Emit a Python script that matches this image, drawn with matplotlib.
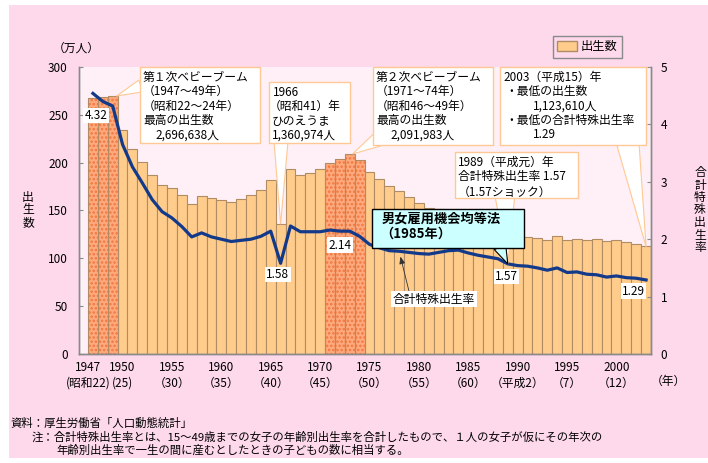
import numpy as np
import matplotlib.pyplot as plt
from matplotlib.patches import Rectangle, Patch
import matplotlib.transforms as mtransforms

plt.rcParams['font.family'] = ['Noto Sans CJK JP', 'DejaVu Sans']
plt.rcParams['hatch.linewidth'] = 1.2

W, H = 708, 463

# births (10,000 persons) and total fertility rate, 1947-2003
years = np.arange(1947, 2004)
births = [267.9, 268.2, 269.7, 233.8, 213.8, 200.5, 186.8, 177.0, 173.1, 166.5,
          156.7, 165.3, 162.6, 160.6, 158.9, 161.9, 166.0, 171.7, 182.4, 136.1,
          193.6, 187.2, 188.9, 193.4, 200.1, 203.9, 209.2, 203.0, 190.1, 183.3,
          175.5, 170.9, 164.3, 157.7, 152.9, 151.5, 150.9, 149.0, 143.2, 138.3,
          134.7, 131.4, 124.7, 122.2, 122.3, 120.9, 118.8, 123.8, 118.7, 120.7,
          119.2, 120.3, 117.8, 119.1, 117.1, 115.4, 112.4]
tfr = [4.54, 4.40, 4.32, 3.65, 3.26, 2.98, 2.69, 2.48, 2.37, 2.22,
       2.04, 2.11, 2.04, 2.00, 1.96, 1.98, 2.00, 2.05, 2.14, 1.58,
       2.23, 2.13, 2.13, 2.13, 2.16, 2.14, 2.14, 2.05, 1.91, 1.85,
       1.80, 1.79, 1.77, 1.75, 1.74, 1.77, 1.80, 1.81, 1.76, 1.72,
       1.69, 1.66, 1.57, 1.54, 1.53, 1.50, 1.46, 1.50, 1.42, 1.43,
       1.39, 1.38, 1.34, 1.36, 1.33, 1.32, 1.29]
boom_years = [1947, 1948, 1949, 1971, 1972, 1973, 1974]

tick_years = [1947, 1950, 1955, 1960, 1965, 1970, 1975, 1980, 1985, 1990, 1995, 2000]
tick_labels = ['1947\n(昭和22)', '1950\n(25)', '1955\n（30）', '1960\n（35）',
               '1965\n（40）', '1970\n（45）', '1975\n（50）', '1980\n（55）',
               '1985\n（60）', '1990\n（平成2）', '1995\n（7）', '2000\n（12）']

labeled_tfr = [(1949, -12, -7), (1966, -2, -8), (1972, 0, -10), (1989, -1, -9), (2003, -9, -8)]

PINK = '#FDD9EB'
INNER = '#FEF0F6'
BAR = '#FFCC8C'
BAR_EDGE = '#B08C64'
BOOM = '#FFA97C'
BOOM_DOT = '#F2773F'
NAVY = '#133A8A'
BOX_EDGE = '#FFC894'
GRAY = '#8A8A8A'


def fp(x, y):
    # pixel position (from top-left) -> figure fraction
    return (x / W, 1 - y / H)


fig = plt.figure(figsize=(7.08, 4.63), dpi=100)
fig.patches.append(Rectangle(fp(9, 458), 699 / W, 453 / H, transform=fig.transFigure,
                             facecolor=PINK, edgecolor='none', zorder=-10))

ax = fig.add_axes([79 / W, 1 - 354 / H, 572 / W, 287 / H])
ax.set_facecolor(INNER)
ax2 = ax.twinx()

births_arr = np.array(births)
is_boom = np.isin(years, boom_years)

ax.bar(years[~is_boom], births_arr[~is_boom], width=1.0, facecolor=BAR,
       edgecolor=BAR_EDGE, linewidth=0.8)
ax.bar(years[is_boom], births_arr[is_boom], width=1.0, facecolor=BOOM,
       edgecolor=BOOM_DOT, hatch='....', linewidth=0)
ax.bar(years[is_boom], births_arr[is_boom], width=1.0, fill=False,
       edgecolor=BAR_EDGE, linewidth=0.8)

ax2.plot(years, tfr, color=NAVY, linewidth=2.3, solid_joinstyle='round', zorder=3)

ax.set_xlim(1945.59, 2003.5)
ax.set_ylim(0, 300)
ax2.set_ylim(0, 5)
ax.set_yticks(range(0, 301, 50))
ax2.set_yticks(range(0, 6))
ax.set_xticks(tick_years)
ax.set_xticklabels(tick_labels, linespacing=1.25)

for a in (ax, ax2):
    a.spines['top'].set_visible(False)
    for s in ('left', 'right', 'bottom'):
        a.spines[s].set_color(GRAY)
        a.spines[s].set_linewidth(1.0)
ax.tick_params(axis='y', direction='in', length=3, color=GRAY, labelsize=8.5, pad=8)
ax2.tick_params(axis='y', direction='in', length=3, color=GRAY, labelsize=8.5, pad=7)
ax.tick_params(axis='x', length=0, labelsize=8.5, pad=5)

# first tick label sits a little to the left
off = mtransforms.ScaledTranslation(-5 / 100, 0, fig.dpi_scale_trans)
first = ax.get_xticklabels()[0]
first.set_transform(first.get_transform() + off)

fig.text(*fp(668, 381), '（年）', ha='center', va='center', fontsize=8.5)
fig.text(*fp(76, 48), '（万人）', ha='center', va='center', fontsize=8.5)
fig.text(*fp(28, 210), '出\n生\n数', ha='center', va='center', fontsize=8.5, linespacing=0.95)
fig.text(*fp(700, 210), '合\n計\n特\n殊\n出\n生\n率', ha='center', va='center',
         fontsize=8.5, linespacing=0.95)

# tfr value labels
for yr, dx, dy in labeled_tfr:
    v = tfr[yr - 1947]
    ax2.annotate(f'{v:.2f}', xy=(yr, v), xytext=(dx, dy), textcoords='offset points',
                 ha='center', va='center', fontsize=8.5, zorder=4,
                 bbox=dict(boxstyle='square,pad=0.1', facecolor='white', edgecolor='none'))


def callout(box, lines, tip, base, tipcoords, face='white', edge=BOX_EDGE,
            weight='normal', size=8.5, pitch=14.5, width=1.1):
    x, y, w, h = box
    ax2.annotate('', xy=tip, xycoords=tipcoords, xytext=fp(*base),
                 textcoords='figure fraction', annotation_clip=False,
                 arrowprops=dict(arrowstyle=f'wedge,tail_width={width},shrink_factor=0.5',
                                 facecolor=face, edgecolor=edge, linewidth=0.8,
                                 shrinkA=0, shrinkB=0, mutation_scale=10))
    fig.patches.append(Rectangle(fp(x, y + h), w / W, h / H, transform=fig.transFigure,
                                 facecolor=face, edgecolor=edge, linewidth=1.0, zorder=5))
    for i, (lx, txt) in enumerate(lines):
        fig.text(*fp(x + lx, y + 10 + i * pitch), txt, ha='left', va='center',
                 fontsize=size, fontweight=weight, zorder=6)


b49 = births[1949 - 1947]
callout((140, 67, 120, 76),
        [(3, '第１次ベビーブーム'), (3, '（1947〜49年）'), (3, '（昭和22〜24年）'),
         (3, '最高の出生数'), (15, '2,696,638人')],
        (1949.4, b49), (141, 86), ax.transData, width=0.9)
callout((269, 82, 81, 61),
        [(4, '1966'), (0, '（昭和41）年'), (3, 'ひのえうま'), (3, '1,360,974人')],
        (1966, births[1966 - 1947]), (281, 142), ax.transData, width=1.0)
callout((373, 67, 120, 78),
        [(3, '第２次ベビーブーム'), (3, '（1971〜74年）'), (3, '（昭和46〜49年）'),
         (3, '最高の出生数'), (17, '2,091,983人')],
        (1973.3, births[1973 - 1947]), (377, 140), ax.transData, width=1.0)
callout((500, 67, 146, 78),
        [(3, '2003（平成15）年'), (5, '・最低の出生数'), (33, '1,123,610人'),
         (5, '・最低の合計特殊出生率'), (33, f'{tfr[-1]:.2f}')],
        (2003, births[-1]), (628, 144), ax.transData, width=1.6)
t89 = tfr[1989 - 1947]
callout((455, 152, 123, 46),
        [(3, '1989（平成元）年'), (3, f'合計特殊出生率 {t89:.2f}'), (3, '（1.57ショック）')],
        (1989, t89), (505, 197), ax2.transData, pitch=15, width=1.4)
callout((372, 209, 152, 39),
        [(10, '男女雇用機会均等法'), (8, '（1985年）')],
        (1989, t89), (500, 247), ax2.transData, face='#CCFFFF', edge='black',
        weight='bold', size=9.5, pitch=15, width=0.9)

# line label with arrow
ax2.annotate('合計特殊出生率', xy=(1978, tfr[1978 - 1947]), xycoords='data',
             xytext=fp(434, 299), textcoords='figure fraction', ha='center', va='center',
             fontsize=8.5, zorder=4, annotation_clip=False,
             bbox=dict(boxstyle='square,pad=0.15', facecolor='white', edgecolor='none'),
             arrowprops=dict(arrowstyle='-|>,head_length=0.5,head_width=0.2', color='#333333',
                             linewidth=0.6, shrinkA=0, shrinkB=4, relpos=(0.2, 1.0)))

fig.legend(handles=[Patch(facecolor=BAR, edgecolor=BAR_EDGE)], labels=['出生数'],
           loc='upper left', bbox_to_anchor=fp(553, 36), bbox_transform=fig.transFigure,
           fancybox=False, edgecolor=GRAY, facecolor=PINK, framealpha=1, fontsize=8.8,
           handlelength=1.6, handleheight=0.9, borderpad=0.35, handletextpad=0.3,
           borderaxespad=0)

fig.text(*fp(10, 423), '資料：厚生労働省「人口動態統計」', ha='left', va='center', fontsize=8.2)
fig.text(*fp(32, 437), '注：合計特殊出生率とは、15〜49歳までの女子の年齢別出生率を合計したもので、１人の女子が仮にその年次の',
         ha='left', va='center', fontsize=8.2)
fig.text(*fp(56, 450), '年齢別出生率で一生の間に産むとしたときの子どもの数に相当する。',
         ha='left', va='center', fontsize=8.2)

fig.savefig('out.png', dpi=100)
